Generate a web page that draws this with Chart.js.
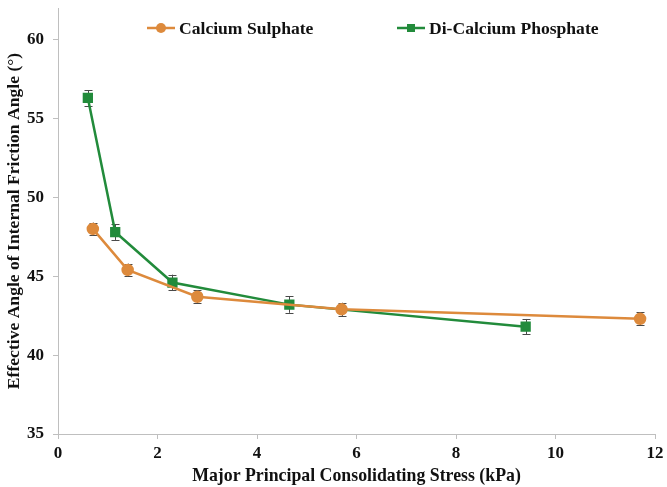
<!DOCTYPE html>
<html>
<head>
<meta charset="utf-8">
<style>
  html, body { margin: 0; padding: 0; background: #fff; }
  #wrap { width: 667px; height: 487px; position: relative; }
</style>
<script src="https://cdn.jsdelivr.net/npm/chart.js@4.4.1/dist/chart.umd.min.js"></script>
</head>
<body>
<div id="wrap"><canvas id="c" width="667" height="487"></canvas></div>
<script>
// ---- Data ----
const seriesNames = ["Calcium Sulphate", "Di-Calcium Phosphate"];
const csStress = [0.7, 1.4, 2.8, 5.7, 11.7];
const csAngle  = [48.0, 45.4, 43.7, 42.9, 42.3];
const csError  = [0.4, 0.4, 0.42, 0.42, 0.42];
const dcpStress = [0.6, 1.15, 2.3, 4.65, 9.4];
const dcpAngle  = [56.3, 47.8, 44.6, 43.2, 41.8];
const dcpError  = [0.48, 0.5, 0.5, 0.52, 0.49];
const xTicks = [0, 2, 4, 6, 8, 10, 12];
const yTicks = [35, 40, 45, 50, 55, 60];
const xTitle = "Major Principal Consolidating Stress (kPa)";
const yTitle = "Effective Angle of Internal Friction Angle (°)";

const ORANGE = '#DD8A3C';
const GREEN = '#228B3B';
const AXIS = '#BFBFBF';
const FONT = '"Liberation Serif", "Times New Roman", serif';

function toPts(xs, ys) { return xs.map((x, i) => ({ x: x, y: ys[i] })); }

const errorBars = {
  id: 'errorBars',
  beforeDatasetsDraw(chart) {
    const ctx = chart.ctx;
    const xs = chart.scales.x, ys = chart.scales.y;
    ctx.save();
    ctx.strokeStyle = '#4a4a4a';
    ctx.lineWidth = 1;
    chart.data.datasets.forEach(ds => {
      ds.data.forEach((p, i) => {
        const e = ds.errors[i];
        const px = Math.round(xs.getPixelForValue(p.x)) + 0.5;
        const top = ys.getPixelForValue(p.y + e);
        const bot = ys.getPixelForValue(p.y - e);
        ctx.beginPath();
        ctx.moveTo(px, top); ctx.lineTo(px, bot);
        ctx.moveTo(px - 4, Math.round(top) + 0.5); ctx.lineTo(px + 4, Math.round(top) + 0.5);
        ctx.moveTo(px - 4, Math.round(bot) + 0.5); ctx.lineTo(px + 4, Math.round(bot) + 0.5);
        ctx.stroke();
      });
    });
    ctx.restore();
  }
};

const customLegend = {
  id: 'customLegend',
  afterDraw(chart) {
    const ctx = chart.ctx;
    const items = [
      { ds: chart.data.datasets[0], x: 147, y: 28 },
      { ds: chart.data.datasets[1], x: 397, y: 28 }
    ];
    ctx.save();
    items.forEach(it => {
      const ds = it.ds;
      ctx.strokeStyle = ds.borderColor;
      ctx.lineWidth = 2.5;
      ctx.beginPath();
      ctx.moveTo(it.x, it.y); ctx.lineTo(it.x + 28, it.y);
      ctx.stroke();
      ctx.fillStyle = ds.pointBackgroundColor;
      if (ds.pointStyle === 'circle') {
        ctx.beginPath(); ctx.arc(it.x + 14, it.y, 5, 0, Math.PI * 2); ctx.fill();
      } else {
        ctx.fillRect(it.x + 14 - 4, it.y - 4, 8, 8);
      }
      ctx.fillStyle = '#111';
      ctx.font = 'bold 17.6px ' + FONT;
      ctx.textBaseline = 'middle';
      ctx.textAlign = 'left';
      ctx.fillText(ds.label, it.x + 32, it.y + 1);
    });
    ctx.restore();
  }
};

new Chart(document.getElementById('c'), {
  type: 'line',
  data: {
    datasets: [
      {
        label: seriesNames[0],
        data: toPts(csStress, csAngle),
        errors: csError,
        borderColor: ORANGE,
        backgroundColor: ORANGE,
        pointBackgroundColor: ORANGE,
        pointBorderColor: ORANGE,
        pointStyle: 'circle',
        pointRadius: 5,
        borderWidth: 2.5,
        tension: 0
      },
      {
        label: seriesNames[1],
        data: toPts(dcpStress, dcpAngle),
        errors: dcpError,
        borderColor: GREEN,
        backgroundColor: GREEN,
        pointBackgroundColor: GREEN,
        pointBorderColor: GREEN,
        pointStyle: 'rect',
        pointRadius: 5.5,
        borderWidth: 2.5,
        tension: 0
      }
    ]
  },
  options: {
    responsive: false,
    animation: false,
    devicePixelRatio: 1,
    layout: { padding: { top: 5, right: 12, left: 0, bottom: 0 } },
    plugins: { legend: { display: false }, tooltip: { enabled: false } },
    scales: {
      x: {
        type: 'linear',
        min: xTicks[0], max: xTicks[xTicks.length - 1],
        afterBuildTicks: s => { s.ticks = xTicks.map(v => ({ value: v })); },
        afterFit: s => { s.height = 53; s.paddingLeft = 0; s.paddingRight = 0; },
        grid: { drawOnChartArea: false, color: AXIS, tickLength: 5, tickColor: AXIS },
        border: { color: AXIS, width: 1 },
        ticks: { color: '#111', font: { family: FONT, size: 17, weight: 'bold' }, padding: 4, maxRotation: 0 },
        title: { display: true, text: xTitle, color: '#111', font: { family: FONT, size: 17.8, weight: 'bold' }, padding: { top: 0, bottom: 0 } }
      },
      y: {
        type: 'linear',
        min: 35, max: 62,
        afterBuildTicks: s => { s.ticks = yTicks.map(v => ({ value: v })); },
        afterFit: s => { s.width = 58; s.paddingTop = 0; s.paddingBottom = 0; },
        grid: { drawOnChartArea: false, color: AXIS, tickLength: 5, tickColor: AXIS },
        border: { color: AXIS, width: 1 },
        ticks: { color: '#111', font: { family: FONT, size: 17, weight: 'bold' }, padding: 9 },
        title: { display: true, text: yTitle, color: '#111', font: { family: FONT, size: 17.6, weight: 'bold' }, padding: { top: 4, bottom: 0 } }
      }
    }
  },
  plugins: [errorBars, customLegend]
});
</script>
</body>
</html>
